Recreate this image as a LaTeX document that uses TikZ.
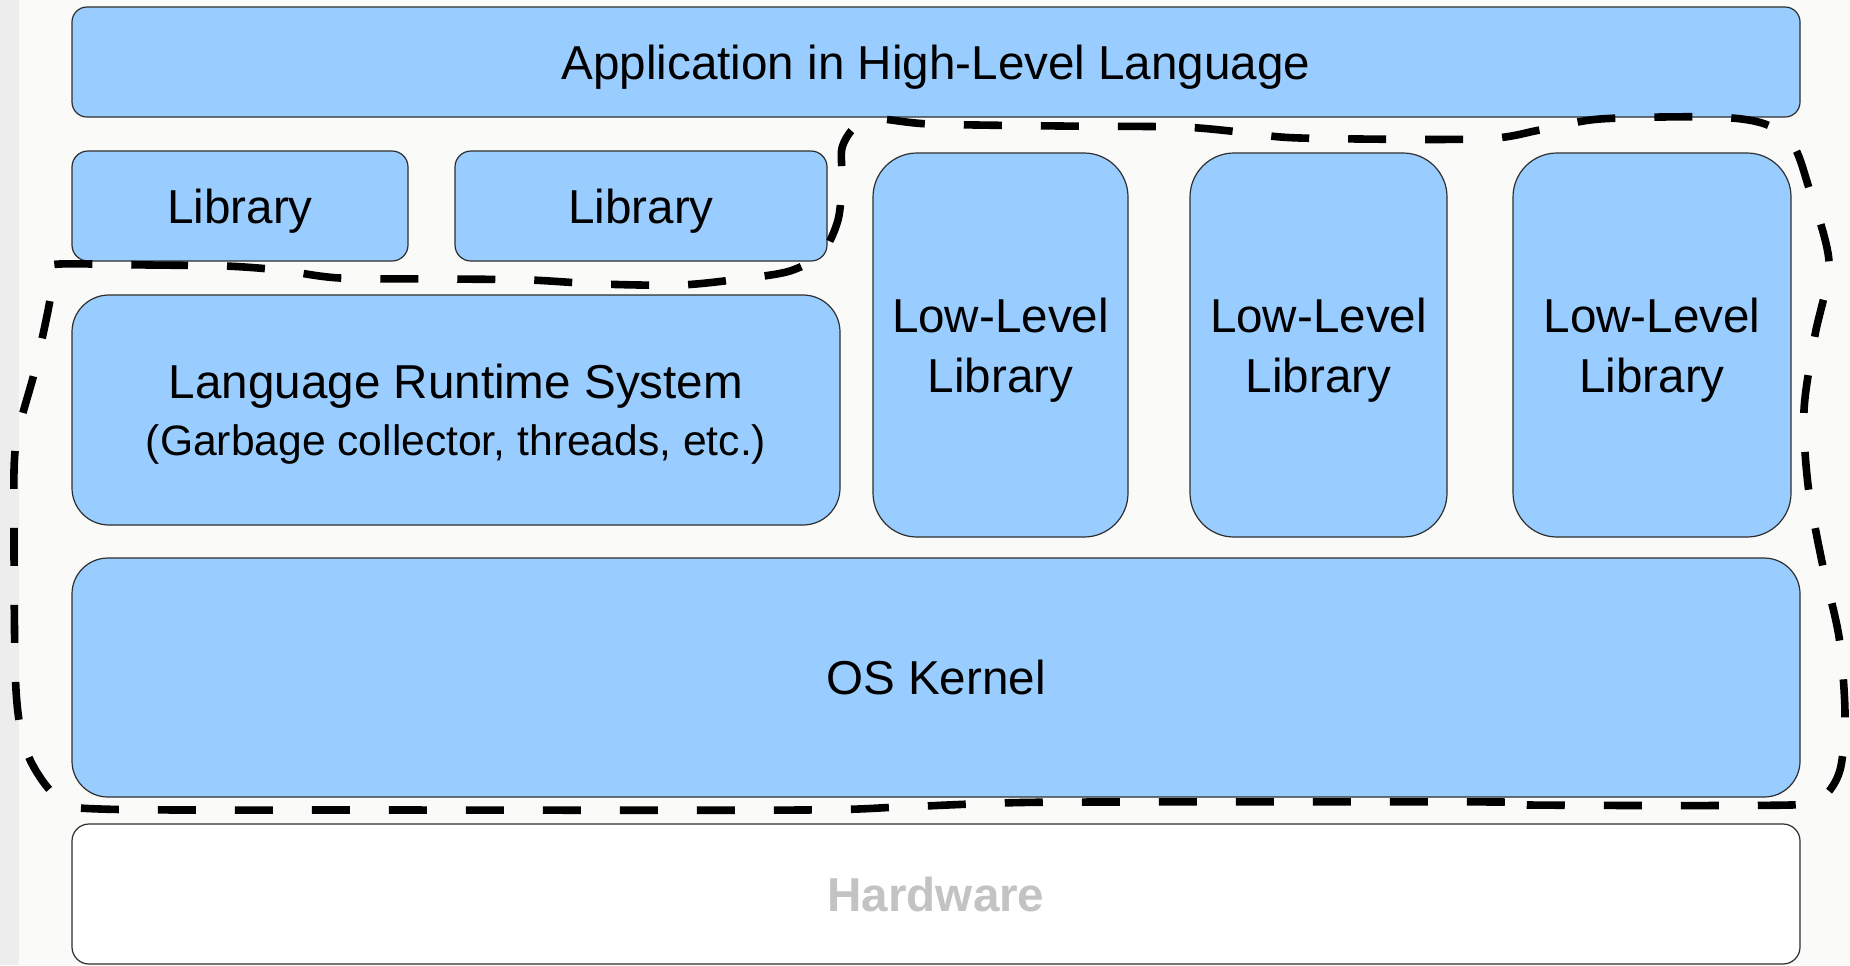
\documentclass[tikz,border=0pt]{standalone}
\usepackage{fontspec}
\setmainfont{Liberation Sans}
\definecolor{boxblue}{HTML}{99CCFF}
\definecolor{paper}{HTML}{FAFAF9}
\definecolor{edge}{HTML}{2E2E2E}
\definecolor{hwtext}{HTML}{C3C3C3}
\begin{document}
\begin{tikzpicture}[x=0.5pt,y=-0.5pt,
  layer/.style={draw=edge, line width=0.6pt, fill=boxblue, align=center,
    inner sep=0pt, text depth=0pt, font=\fontsize{23.8}{30}\selectfont},
  wide/.style={layer, minimum width=864pt},
  lib/.style={layer, minimum height=55pt, rounded corners=8pt},
  lowlib/.style={layer, minimum height=192pt, rounded corners=22pt},
  region/.style={line width=3.8pt, dash pattern=on 19pt off 19.5pt, line cap=butt}]
\useasboundingbox (0,0) rectangle (1850,965);
\fill[paper] (0,0) rectangle (1850,965);
\fill[black!7] (0,0) rectangle (19,965);

% software stack
\node[wide, minimum height=55pt, rounded corners=7.5pt] (app) at (936,62)
  {Application in High-Level Language};
\node[lib, minimum width=168pt] (lib1) at (240,206) {Library};
\node[lib, minimum width=186pt] (lib2) at (641,206) {Library};
\node[layer, minimum width=384pt, minimum height=115pt, rounded corners=18.5pt,
  font=\fontsize{23.8}{28.5}\selectfont] (rts) at (456,410)
  {Language Runtime System\\{\fontsize{21.3}{28.5}\selectfont (Garbage collector, threads, etc.)}};
\node[lowlib, minimum width=127.5pt] (ll1) at (1000.5,345) {Low-Level\\Library};
\node[lowlib, minimum width=128.5pt] (ll2) at (1318.5,345) {Low-Level\\Library};
\node[lowlib, minimum width=139pt] (ll3) at (1652,345) {Low-Level\\Library};
\node[wide, minimum height=119.5pt, rounded corners=18pt] (os) at (936,677.5) {OS Kernel};
\node[wide, minimum height=70pt, rounded corners=8.5pt, fill=white,
  text=hwtext, font=\fontsize{23.8}{30}\selectfont\bfseries] (hw) at (936,894) {Hardware};

% dashed boundary around the low-level part
\draw[region] plot[smooth cycle, tension=0.5] coordinates {
  (60,264) (150,265) (225,266) (280,270) (340,278) (450,279) (530,280)
  (600,284) (680,285) (740,279) (790,271) (822,253) (838,220) (842,180)
  (842,148) (855,127) (878,119) (930,124) (1060,126) (1180,127) (1240,132)
  (1300,138) (1480,139) (1540,130) (1600,119) (1714,117) (1765,124)
  (1793,145) (1808,185) (1829,262) (1815,335) (1804,410) (1808,485)
  (1822,562) (1839,637) (1845,714) (1840,770) (1822,798) (1790,805)
  (1530,805) (1500,802) (1100,802) (1000,803) (900,807) (800,810) (400,810)
  (100,809) (58,798) (28,755) (16,690) (14,520) (16,443) (35,370)
  (50,300) (52,270)};
\end{tikzpicture}
\end{document}
